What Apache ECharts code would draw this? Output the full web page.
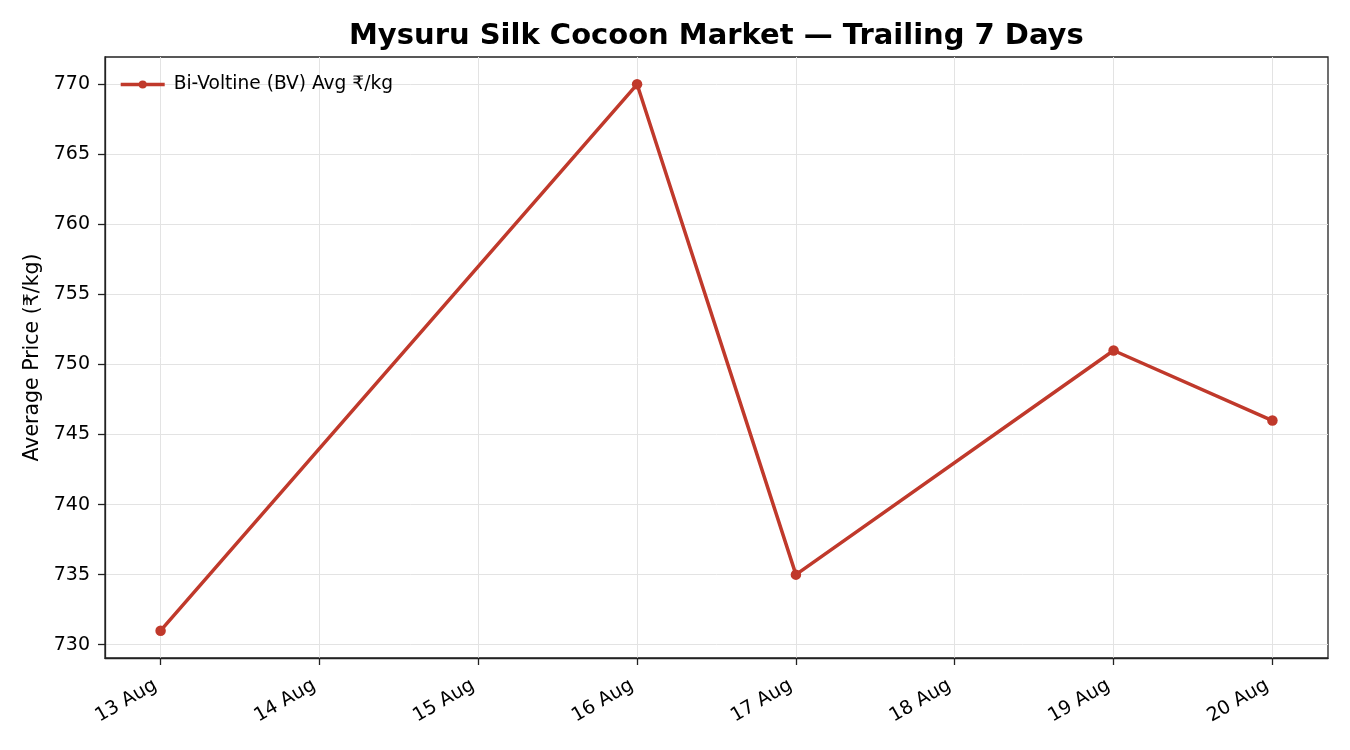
<!DOCTYPE html>
<html>
<head>
<meta charset="utf-8">
<script src="https://cdn.jsdelivr.net/npm/echarts@6/dist/echarts.min.js"></script>
<style>html,body{margin:0;padding:0;background:#fff}#c{width:1350px;height:750px}</style>
</head>
<body>
<div id="c"></div>
<script>
const days = [13, 16, 17, 19, 20];
const prices = [731, 770, 735, 751, 746];
const tickDays = [13, 14, 15, 16, 17, 18, 19, 20];
const tickLabels = ['13 Aug', '14 Aug', '15 Aug', '16 Aug', '17 Aug', '18 Aug', '19 Aug', '20 Aug'];
const yTicks = [730, 735, 740, 745, 750, 755, 760, 765, 770];
const seriesName = 'Bi-Voltine (BV) Avg ₹/kg';

const xMin = 13 - 0.35, xMax = 20 + 0.35;
const yMin = 731 - 1.95, yMax = 770 + 1.95;
const font = "'DejaVu Sans', sans-serif";
const chart = echarts.init(document.getElementById('c'), null, {renderer: 'canvas'});
chart.setOption({
  animation: false,
  backgroundColor: '#fff',
  title: {
    text: 'Mysuru Silk Cocoon Market — Trailing 7 Days',
    left: 344, top: 17,
    textStyle: {fontFamily: font, fontWeight: 'bold', fontSize: 29, color: '#000'}
  },
  legend: {
    left: 114, top: 70,
    itemWidth: 44, itemHeight: 10, itemGap: 10,
    lineStyle: {width: 3.4},
    textStyle: {fontFamily: font, fontSize: 18.6, color: '#000', padding: [0, 0, 0, 4]},
    data: [seriesName]
  },
  grid: {left: 105, right: 22, top: 57, bottom: 92, show: true, borderColor: '#222', borderWidth: 1.3, backgroundColor: 'transparent'},
  xAxis: {
    type: 'value', min: xMin, max: xMax,
    axisLine: {show: true, lineStyle: {color: '#222', width: 1.3}},
    axisTick: {show: true, inside: false, length: 7, lineStyle: {color: '#222', width: 1.3}, customValues: tickDays},
    axisLabel: {
      customValues: tickDays, rotate: 30, margin: 23, padding: [0, 6, 0, 0],
      fontFamily: font, fontSize: 19, color: '#000',
      formatter: v => tickLabels[tickDays.indexOf(Math.round(v))] || ''
    },
    splitLine: {show: true, lineStyle: {color: '#e3e3e3', width: 1}}
  },
  yAxis: {
    type: 'value', min: yMin, max: yMax,
    name: 'Average Price (₹/kg)', nameLocation: 'middle', nameGap: 62,
    nameTextStyle: {fontFamily: font, fontSize: 20.5, color: '#000'},
    axisLine: {show: true, lineStyle: {color: '#222', width: 1.3}},
    axisTick: {show: true, inside: false, length: 7, lineStyle: {color: '#222', width: 1.3}, customValues: yTicks},
    axisLabel: {customValues: yTicks, margin: 15, fontFamily: font, fontSize: 19, color: '#000'},
    splitLine: {show: true, lineStyle: {color: '#e3e3e3', width: 1}}
  },
  series: [{
    name: seriesName, type: 'line',
    data: days.map((d, i) => [d, prices[i]]),
    symbol: 'circle', symbolSize: 10.5,
    lineStyle: {color: '#c0392b', width: 3.5},
    itemStyle: {color: '#c0392b'},
    z: 5
  }]
});
</script>
</body>
</html>
